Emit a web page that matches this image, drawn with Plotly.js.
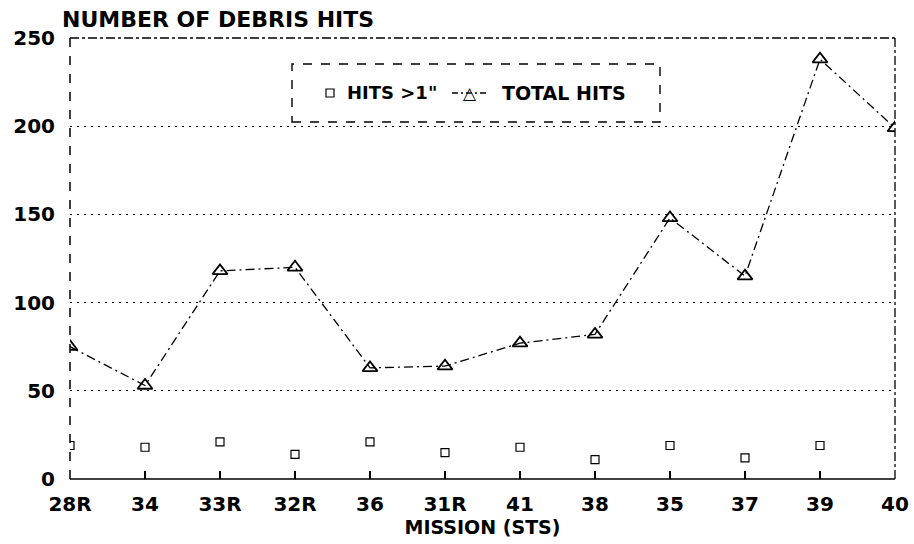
<!DOCTYPE html>
<html>
<head>
<meta charset="utf-8">
<script src="https://cdn.plot.ly/plotly-3.0.1.min.js"></script>
<style>html,body{margin:0;padding:0;background:#fff;}#chart{width:914px;height:544px;}</style>
</head>
<body>
<div id="chart"></div>
<script>
var missions = ['28R','34','33R','32R','36','31R','41','38','35','37','39','40'];
var totalHits = [75, 53, 118, 120, 63, 64, 77, 82, 148, 115, 238, 199];
var hitsOver1 = [19, 18, 21, 14, 21, 15, 18, 11, 19, 12, 19, null];
var yTicks = [0, 50, 100, 150, 200, 250];

var F = 'DejaVu Sans';
var bold = function(s){ return {family: F, size: s, color: '#000', weight: 'bold'}; };

// plot area in pixels: left 70, right 895, top 38, bottom 479
function px(x){ return (x - 70) / 825; }
function py(y){ return (479 - y) / 441; }

var traces = [
  {
    x: missions, y: totalHits, type: 'scatter', mode: 'lines+markers',
    name: 'TOTAL HITS', showlegend: false,
    line: {color: '#000', width: 1.3, dash: '9px,4px,2px,4px'},
    marker: {symbol: 'triangle-up-open', size: 13, color: '#000', line: {color: '#000', width: 1.8}}
  },
  {
    x: missions, y: hitsOver1, type: 'scatter', mode: 'markers',
    name: 'HITS >1"', showlegend: false,
    marker: {symbol: 'square-open', size: 8, color: '#000', line: {color: '#000', width: 1.2}}
  }
];

var layout = {
  width: 914, height: 544,
  margin: {l: 70, r: 19, t: 38, b: 65},
  paper_bgcolor: '#fff', plot_bgcolor: '#fff',
  showlegend: false,
  title: {
    text: 'NUMBER OF DEBRIS HITS',
    x: 62/914, xref: 'container', xanchor: 'left',
    y: 1 - 19/544, yref: 'container', yanchor: 'middle',
    font: bold(22)
  },
  xaxis: {
    type: 'category', categoryorder: 'array', categoryarray: missions,
    range: [0, missions.length - 1], fixedrange: true,
    showgrid: false, zeroline: false, showline: false,
    ticks: 'inside', ticklen: 8, tickwidth: 1.5, tickcolor: '#000',
    ticklabelstandoff: 11,
    tickfont: bold(20),
    title: {text: 'MISSION (STS)', font: bold(19), standoff: 0}
  },
  yaxis: {
    range: [0, 250], tickvals: yTicks, ticktext: yTicks.map(String),
    showgrid: true, gridcolor: '#000', gridwidth: 1, griddash: '2px,5px',
    zeroline: false, showline: false, ticks: '',
    ticklabelstandoff: 14,
    tickfont: bold(20)
  },
  shapes: [
    {type: 'line', xref: 'paper', yref: 'paper', x0: 0, x1: 0, y0: 0, y1: 1, line: {color: '#000', width: 1.5, dash: 'dash'}},
    {type: 'line', xref: 'paper', yref: 'paper', x0: 0, x1: 1, y0: 1, y1: 1, line: {color: '#000', width: 1.3, dash: 'dashdot'}},
    {type: 'line', xref: 'paper', yref: 'paper', x0: 1, x1: 1, y0: 0, y1: 1, line: {color: '#000', width: 1.3, dash: 'dashdot'}},
    {type: 'line', xref: 'paper', yref: 'paper', x0: 0, x1: 1, y0: 0, y1: 0, line: {color: '#000', width: 1.6}},
    // legend box
    {type: 'rect', xref: 'paper', yref: 'paper', x0: px(292), x1: px(660), y0: py(122), y1: py(64),
     fillcolor: '#fff', line: {color: '#000', width: 1.4, dash: 'dash'}},
    // legend marker sample for hits > 1"
    {type: 'rect', xref: 'paper', yref: 'paper', x0: px(326), x1: px(334), y0: py(97), y1: py(89),
     line: {color: '#000', width: 1.2}},
    // legend line sample for total hits
    {type: 'line', xref: 'paper', yref: 'paper', x0: px(452), x1: px(488), y0: py(93), y1: py(93),
     line: {color: '#000', width: 1.3, dash: '6px,3px,2px,3px'}}
  ],
  annotations: [
    {xref: 'paper', yref: 'paper', x: px(345), y: py(93), text: 'HITS >1"', showarrow: false,
     font: bold(18), xanchor: 'left', yanchor: 'middle'},
    {xref: 'paper', yref: 'paper', x: px(470), y: py(93), text: '△', showarrow: false,
     font: {family: F, size: 17, color: '#000', weight: 'bold'}, xanchor: 'center', yanchor: 'middle'},
    {xref: 'paper', yref: 'paper', x: px(500), y: py(93), text: 'TOTAL HITS', showarrow: false,
     font: bold(19), xanchor: 'left', yanchor: 'middle'}
  ]
};

Plotly.newPlot('chart', traces, layout, {staticPlot: true, displayModeBar: false});
</script>
</body>
</html>
